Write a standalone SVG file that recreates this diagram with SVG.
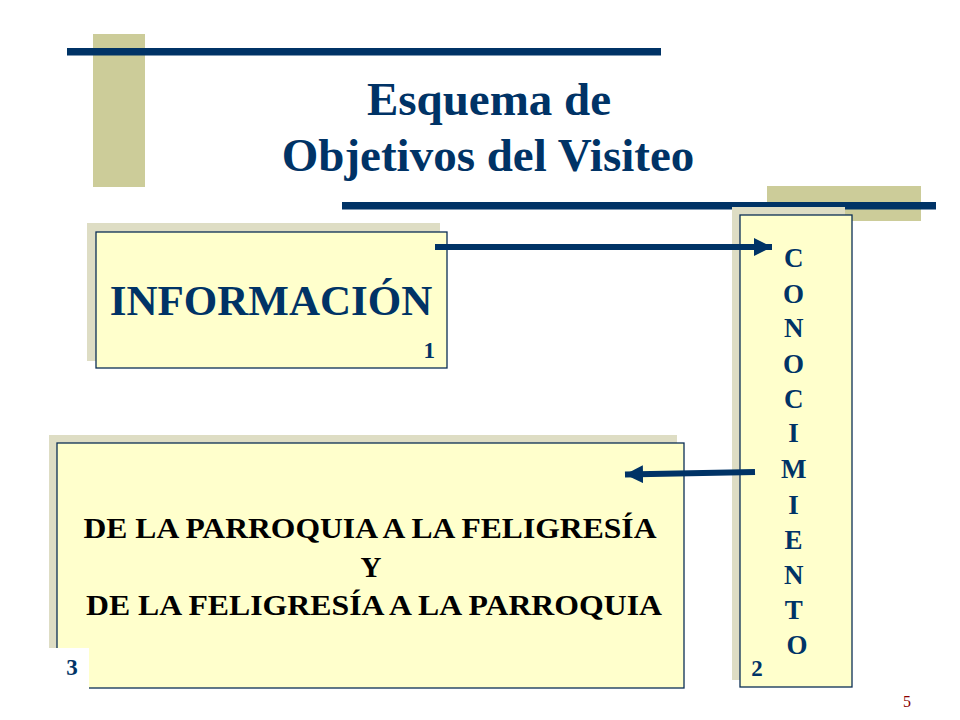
<svg xmlns="http://www.w3.org/2000/svg" width="960" height="720" viewBox="0 0 960 720">
<style>
.tan{fill:#CCCC99}
.navy{fill:#003366}
.shadow{fill:#DEDDC4}
.box{fill:#FFFFCC;stroke:#0B2E55;stroke-width:1.3}
.t{font-family:"Liberation Serif","Times New Roman",serif;font-weight:bold}
.title{font-size:47px;fill:#003366;text-anchor:middle}
.lbl{fill:#003366}
.blk{fill:#000000;font-size:29px;text-anchor:middle}
.conn{stroke:#003366;stroke-width:6;fill:none}
</style>
<defs>
<marker id="ah" markerWidth="3" markerHeight="3" refX="3" refY="1.5" orient="auto" markerUnits="strokeWidth" viewBox="0 0 3 3">
<path d="M0,0 L3,1.5 L0,3 Z" fill="#003366"/>
</marker>
</defs>
<rect width="960" height="720" fill="#FFFFFF"/>
<g id="decor">
<rect class="tan" x="93" y="34" width="52" height="153"/>
<rect class="navy" x="67" y="48" width="594" height="7.5"/>
<rect class="tan" x="767" y="186" width="154" height="35"/>
<rect class="navy" x="342" y="202" width="594" height="7.5"/>
</g>
<g id="title">
<text class="t title" x="489" y="115">Esquema de</text>
<text class="t title" x="488" y="171">Objetivos del Visiteo</text>
</g>
<g id="informacion">
<rect class="shadow" x="87" y="223" width="353" height="138"/>
<rect class="box" x="96" y="232" width="351" height="136"/>
<text class="t lbl" x="271" y="315" font-size="43" text-anchor="middle">INFORMACIÓN</text>
<text class="t lbl" x="435" y="358" font-size="23" text-anchor="end">1</text>
</g>
<g id="conocimiento">
<rect class="shadow" x="732" y="207" width="113" height="473"/>
<rect class="box" x="740" y="215" width="112" height="472"/>
<text class="t lbl" font-size="27" text-anchor="middle">
<tspan x="797" y="267">C</tspan>
<tspan x="797" y="302.5">O</tspan>
<tspan x="797" y="337">N</tspan>
<tspan x="797" y="372.5">O</tspan>
<tspan x="797" y="408">C</tspan>
<tspan x="797" y="442">I</tspan>
<tspan x="797" y="478">M</tspan>
<tspan x="797" y="513.5">I</tspan>
<tspan x="797" y="549">E</tspan>
<tspan x="797" y="583.5">N</tspan>
<tspan x="797" y="618.5">T</tspan>
<tspan x="797" y="654">O</tspan>
</text>
<text class="t lbl" x="757" y="676" font-size="23" text-anchor="middle">2</text>
</g>
<g id="parroquia">
<rect class="shadow" x="49" y="435" width="628" height="247"/>
<rect class="box" x="57" y="443" width="627" height="245"/>
<rect x="48" y="648" width="41" height="43" fill="#FFFFFF"/>
<text class="t blk" x="370" y="538" textLength="573" lengthAdjust="spacingAndGlyphs">DE LA PARROQUIA A LA FELIGRESÍA</text>
<text class="t blk" x="371" y="577">Y</text>
<text class="t blk" x="374" y="615" textLength="576" lengthAdjust="spacingAndGlyphs">DE LA FELIGRESÍA A LA PARROQUIA</text>
<text class="t lbl" x="72" y="675" font-size="23" text-anchor="middle">3</text>
</g>
<g id="connectors">
<line class="conn" x1="435" y1="247" x2="772" y2="247" marker-end="url(#ah)"/>
<line class="conn" x1="755" y1="472" x2="625" y2="474.5" marker-end="url(#ah)"/>
</g>
<text x="907" y="707" font-family="Liberation Serif, Times New Roman, serif" font-size="16" fill="#8B0000" text-anchor="middle">5</text>
</svg>
